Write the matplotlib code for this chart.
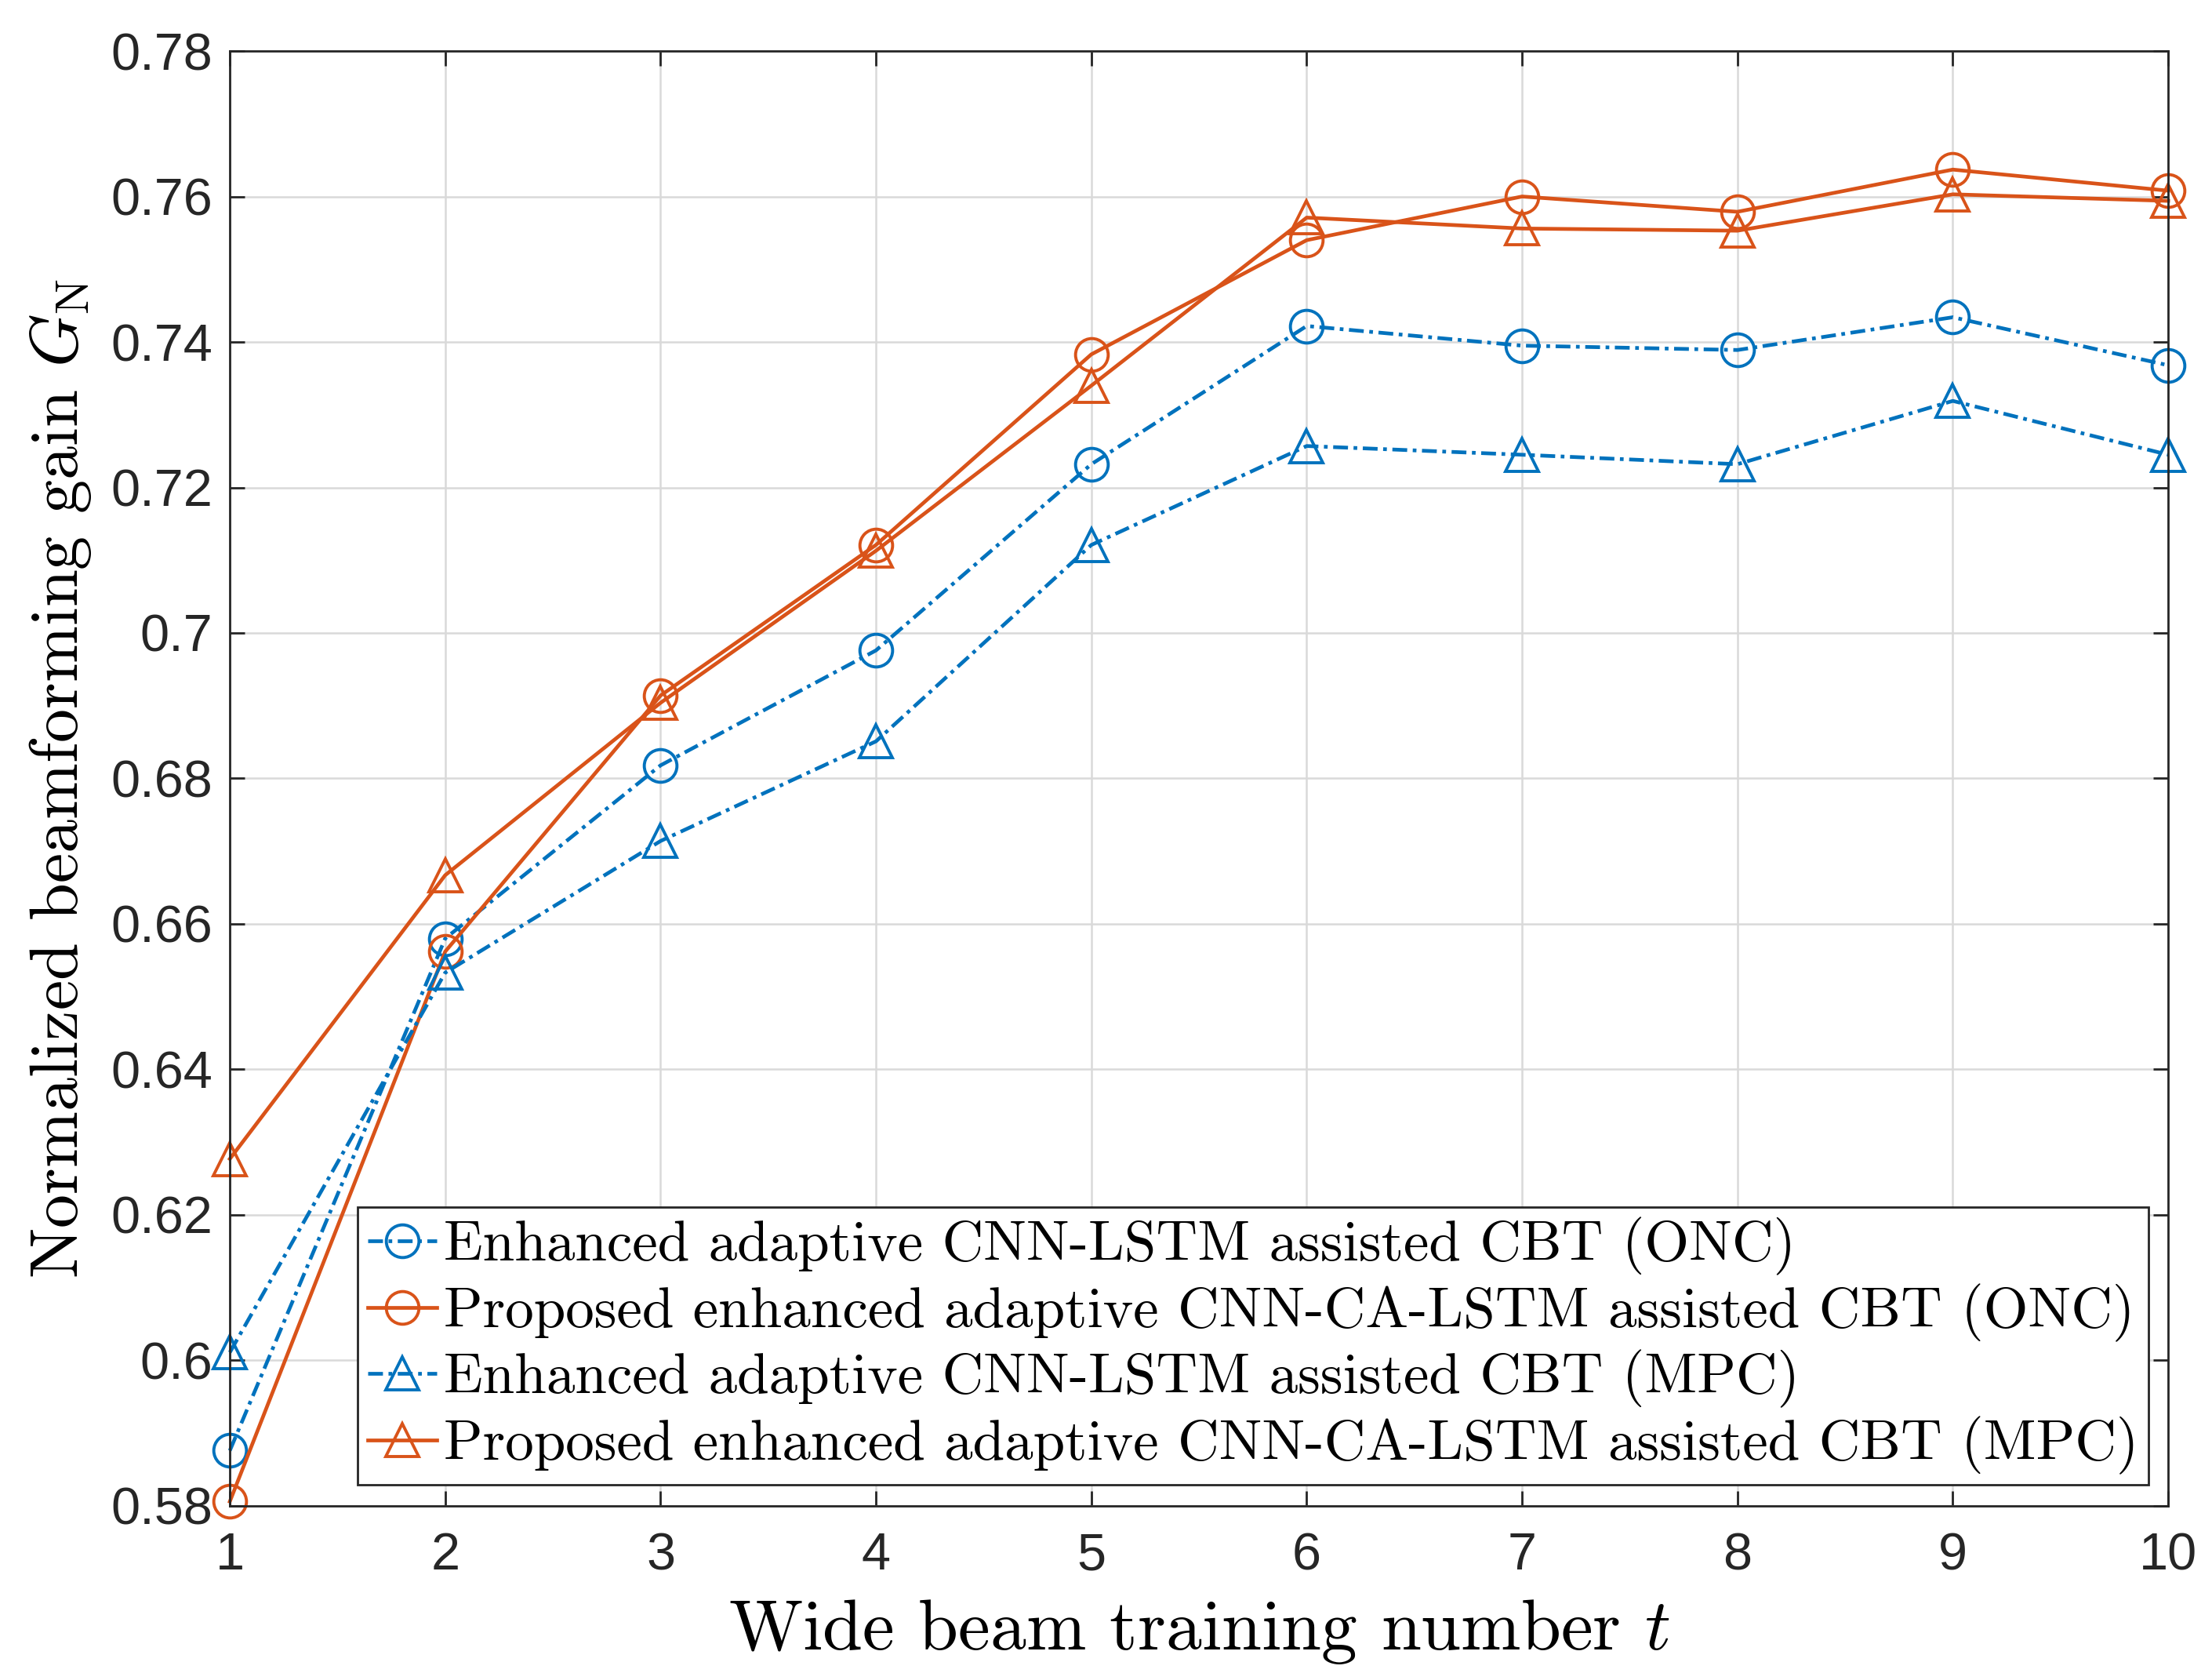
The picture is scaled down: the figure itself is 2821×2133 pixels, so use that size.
import matplotlib
matplotlib.use("Agg")
import matplotlib.pyplot as plt

t = [1, 2, 3, 4, 5, 6, 7, 8, 9, 10]
cnn_lstm_onc = [0.5876, 0.6580, 0.6818, 0.6976, 0.7232, 0.7422, 0.7395, 0.7389, 0.7434, 0.7368]
ca_lstm_onc = [0.5806, 0.6562, 0.6914, 0.7121, 0.7383, 0.7540, 0.7600, 0.7579, 0.7637, 0.7608]
cnn_lstm_mpc = [0.6011, 0.6533, 0.6714, 0.6851, 0.7121, 0.7257, 0.7245, 0.7232, 0.7319, 0.7245]
ca_lstm_mpc = [0.6277, 0.6667, 0.6904, 0.7113, 0.7340, 0.7571, 0.7556, 0.7553, 0.7603, 0.7594]

labels = [
    "Enhanced adaptive CNN-LSTM assisted CBT (ONC)",
    "Proposed enhanced adaptive CNN-CA-LSTM assisted CBT (ONC)",
    "Enhanced adaptive CNN-LSTM assisted CBT (MPC)",
    "Proposed enhanced adaptive CNN-CA-LSTM assisted CBT (MPC)",
]
yticks = [0.58, 0.60, 0.62, 0.64, 0.66, 0.68, 0.70, 0.72, 0.74, 0.76, 0.78]
yticklabels = ["0.58", "0.6", "0.62", "0.64", "0.66", "0.68", "0.7", "0.72", "0.74", "0.76", "0.78"]

blue = "#0072BD"
orange = "#D95319"

plt.rcParams["mathtext.fontset"] = "cm"
plt.rcParams["axes.formatter.use_mathtext"] = True

fig = plt.figure(figsize=(14.105, 10.665), dpi=200)
ax = fig.add_axes([0.1039, 0.0999, 0.8763, 0.8696])

ms = 15
lw = 1.7
mew = 1.4
ax.plot(t, cnn_lstm_onc, linestyle=(0, (4, 1.5, 1, 1.5)), color=blue, marker="o", ms=ms, mfc="none", mew=mew, lw=lw, label=labels[0], clip_on=False)
ax.plot(t, ca_lstm_onc, linestyle="-", color=orange, marker="o", ms=ms, mfc="none", mew=mew, lw=lw, label=labels[1], clip_on=False)
ax.plot(t, cnn_lstm_mpc, linestyle=(0, (4, 1.5, 1, 1.5)), color=blue, marker="^", ms=ms, mfc="none", mew=mew, lw=lw, label=labels[2], clip_on=False)
ax.plot(t, ca_lstm_mpc, linestyle="-", color=orange, marker="^", ms=ms, mfc="none", mew=mew, lw=lw, label=labels[3], clip_on=False)

ax.set_xlim(1, 10)
ax.set_ylim(0.58, 0.78)
ax.set_xticks(t)
ax.set_xticklabels([str(v) for v in t])
ax.set_yticks(yticks)
ax.set_yticklabels(yticklabels)
for lab in ax.get_xticklabels() + ax.get_yticklabels():
    lab.set_fontfamily("Liberation Sans")
    lab.set_fontsize(24)
    lab.set_color("#262626")

ax.tick_params(direction="in", length=7, width=1.0, top=True, right=True, colors="#262626")
ax.tick_params(axis="x", pad=12)
ax.tick_params(axis="y", pad=8)
ax.grid(True, color="#d9d9d9", linewidth=0.9)
ax.set_axisbelow(True)
for s in ax.spines.values():
    s.set_linewidth(1.0)
    s.set_color("#262626")

ax.set_xlabel("Wide beam training number $t$", fontfamily="cmr10", fontsize=33, labelpad=8)
ax.set_ylabel("Normalized beamforming gain $G_{\\mathrm{N}}$", fontfamily="cmr10", fontsize=31, labelpad=8)

leg = ax.legend(loc="lower right", bbox_to_anchor=(0.99, 0.0146), borderaxespad=0,
                prop={"family": "cmr10", "size": 26.3}, handlelength=1.2, handletextpad=0.12,
                labelspacing=0.14, borderpad=0.18, fancybox=False, framealpha=1,
                edgecolor="#262626")
leg.get_frame().set_linewidth(1.0)

fig.savefig("out.png", dpi=200)
